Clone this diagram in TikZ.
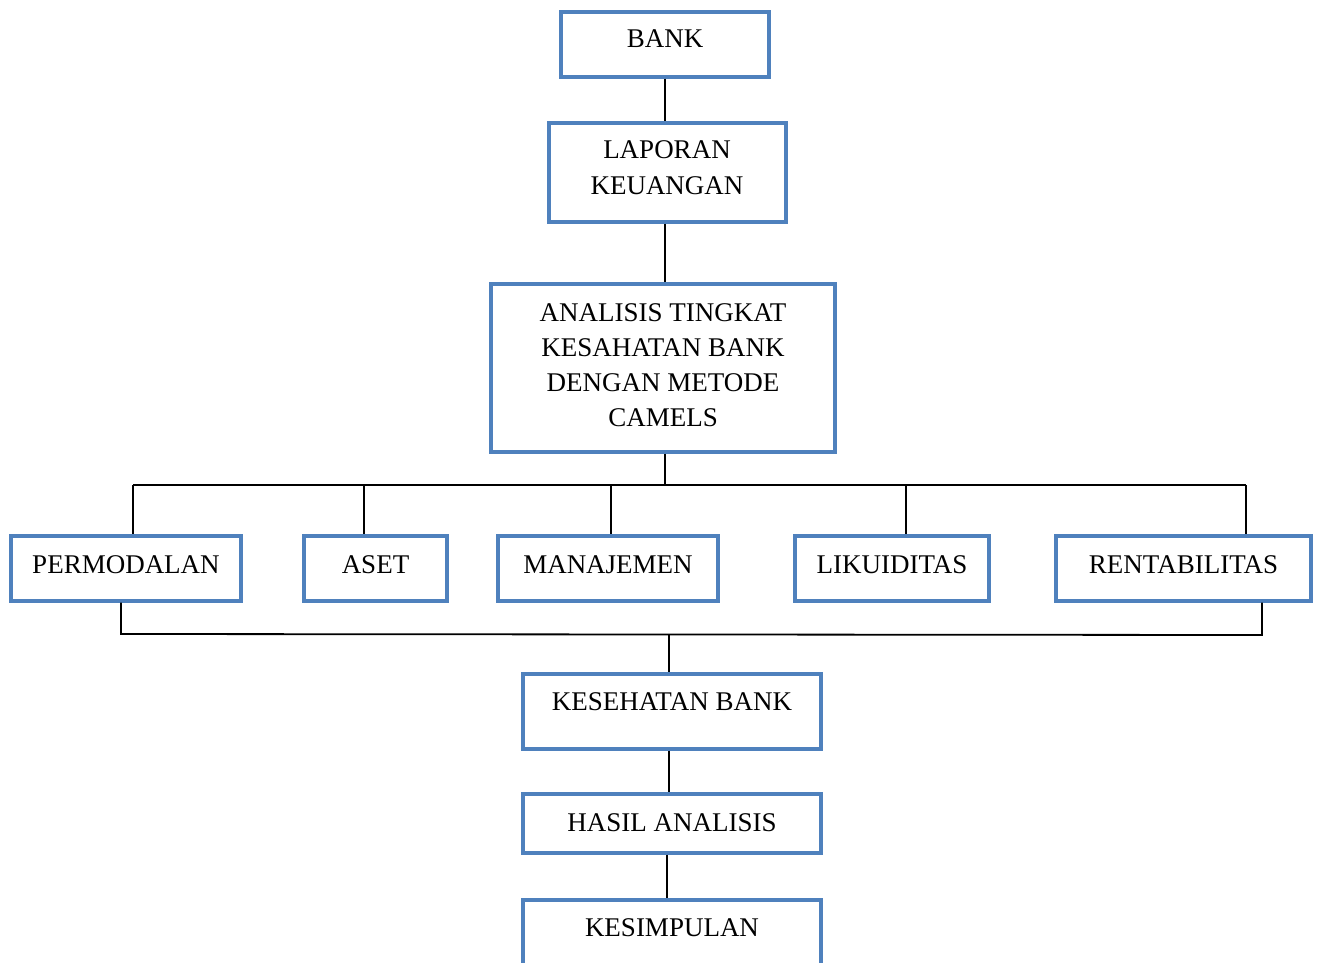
\documentclass[tikz,border=0pt]{standalone}
\usepackage{fontspec}
\setmainfont{Liberation Serif}
\definecolor{boxblue}{HTML}{4F81BD}
\begin{document}
\begin{tikzpicture}[x=1pt,y=-1pt,
  box/.style={draw=boxblue, line width=3.3pt, inner sep=0pt, rectangle},
  lbl/.style={font=\fontsize{27}{35}\selectfont, anchor=base, inner sep=0pt},
  conn/.style={line width=1.8pt, draw=black}]
\useasboundingbox (0,0) rectangle (1319,963);
% boxes
\node[box, minimum width=208pt, minimum height=65pt] (bank) at (665,44.5) {};
\node[box, minimum width=237pt, minimum height=99pt] (lap) at (667.5,172.5) {};
\node[box, minimum width=344pt, minimum height=168pt] (ana) at (663,368) {};
\node[box, minimum width=230pt, minimum height=65pt] (perm) at (126,568.5) {};
\node[box, minimum width=143pt, minimum height=65pt] (aset) at (375.5,568.5) {};
\node[box, minimum width=220pt, minimum height=65pt] (man) at (608,568.5) {};
\node[box, minimum width=194pt, minimum height=65pt] (lik) at (892,568.5) {};
\node[box, minimum width=255pt, minimum height=65pt] (rent) at (1183.5,568.5) {};
\node[box, minimum width=298pt, minimum height=75pt] (kes) at (672,711.5) {};
\node[box, minimum width=298pt, minimum height=59pt] (has) at (672,823.5) {};
\node[box, minimum width=298pt, minimum height=110pt] (kesim) at (672,955) {};
% labels
\node[lbl] (tbank) at (665,48) {BANK};
\node[lbl] (tlap1) at (667,158) {LAPORAN};
\node[lbl] (tlap2) at (667,194) {KEUANGAN};
\node[lbl] (tana1) at (663,321) {ANALISIS TINGKAT};
\node[lbl] (tana2) at (663,356) {KESAHATAN BANK};
\node[lbl] (tana3) at (663,391) {DENGAN METODE};
\node[lbl] (tana4) at (663,426) {CAMELS};
\node[lbl] (tperm) at (126,573) {PERMODALAN};
\node[lbl] (taset) at (375.5,573) {ASET};
\node[lbl] (tman) at (608,573) {MANAJEMEN};
\node[lbl] (tlik) at (892,573) {LIKUIDITAS};
\node[lbl] (trent) at (1183.5,573) {RENTABILITAS};
\node[lbl] (tkes) at (672,710) {KESEHATAN BANK};
\node[lbl] (thas) at (672,831) {HASIL ANALISIS};
\node[lbl] (tkesim) at (672,936) {KESIMPULAN};
% coordinates
\coordinate (c1) at (665,0);
\coordinate (t1) at (133,485);
\coordinate (t2) at (364,485);
\coordinate (t3) at (611,485);
\coordinate (tc) at (665,485);
\coordinate (t4) at (906,485);
\coordinate (t5) at (1246,485);
\coordinate (b1) at (121,634);
\coordinate (b2) at (1262,635);
\coordinate (bc) at (669,634);
\coordinate (c2) at (667,0);
% connectors
\draw[conn] (bank.south -| c1) -- (lap.north -| c1);
\draw[conn] (lap.south -| c1) -- (ana.north -| c1);
\draw[conn] (ana.south -| tc) -- (tc);
\draw[conn] (t1) -- (t5);
\draw[conn] (t1) -- (t1 |- perm.north);
\draw[conn] (t2) -- (t2 |- aset.north);
\draw[conn] (t3) -- (t3 |- man.north);
\draw[conn] (t4) -- (t4 |- lik.north);
\draw[conn] (t5) -- (t5 |- rent.north);
\draw[conn] (b1 |- perm.south) -- (b1) -- (b2) -- (b2 |- rent.south);
\draw[conn] (bc) -- (bc |- kes.north);
\draw[conn] (kes.south -| bc) -- (has.north -| bc);
\draw[conn] (has.south -| c2) -- (kesim.north -| c2);
\end{tikzpicture}
\end{document}
